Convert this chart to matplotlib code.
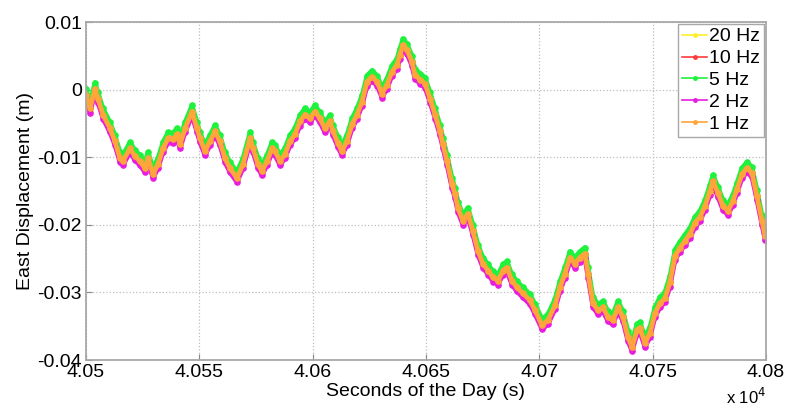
import matplotlib.pyplot as plt
from matplotlib.ticker import FuncFormatter, MultipleLocator

plt.rcParams['font.family'] = ['Liberation Sans', 'DejaVu Sans']

# ── Data ────────────────────────────────────────────────────────
# time of day in seconds, centre of the plotted band in metres
t_sec = [
    40500.0, 40501.8, 40504.0, 40505.3, 40507.5, 40510.6, 40512.8, 40515.0,
    40516.3, 40519.4, 40521.6, 40523.8, 40526.0, 40527.4, 40529.6, 40531.8,
    40534.0, 40536.2, 40538.4, 40540.1, 40541.5, 40543.7, 40546.8, 40549.0,
    40550.3, 40552.5, 40554.7, 40556.9, 40559.1, 40561.3, 40563.5, 40566.6,
    40569.3, 40572.4, 40573.7, 40575.9, 40577.6, 40579.9, 40582.1, 40583.4,
    40585.6, 40587.8, 40590.0, 40592.2, 40594.4, 40596.6, 40598.8, 40601.0,
    40603.2, 40605.4, 40607.6, 40609.0, 40611.2, 40612.9, 40615.1, 40617.4,
    40619.6, 40621.8, 40624.0, 40626.2, 40628.4, 40630.6, 40632.8, 40635.0,
    40637.2, 40638.5, 40639.9, 40641.6, 40643.8, 40645.1, 40647.4, 40649.6,
    40651.8, 40654.0, 40656.2, 40657.5, 40659.3, 40661.5, 40662.8, 40664.1,
    40666.3, 40668.5, 40670.7, 40672.9, 40675.1, 40677.4, 40679.6, 40681.8,
    40684.0, 40685.7, 40687.9, 40690.1, 40692.8, 40695.9, 40698.1, 40701.2,
    40703.8, 40706.9, 40709.1, 40711.3, 40713.5, 40715.7, 40717.9, 40720.1,
    40721.5, 40723.7, 40725.9, 40728.1, 40730.3, 40732.5, 40734.7, 40736.9,
    40739.1, 40740.9, 40743.1, 40744.4, 40746.6, 40748.8, 40751.0, 40753.2,
    40755.4, 40757.6, 40759.9, 40762.1, 40764.3, 40766.5, 40768.7, 40770.9,
    40773.1, 40775.3, 40776.6, 40778.8, 40781.0, 40783.2, 40785.4, 40787.2,
    40789.4, 40791.6, 40793.8, 40796.0, 40798.2, 40799.6,
]
east_band = [
    -0.00074, -0.00279, 0.00015, -0.00132, -0.00368, -0.00574, -0.00765, -0.01015,
    -0.01059, -0.00868, -0.00985, -0.01059, -0.01162, -0.01015, -0.01250, -0.01103,
    -0.00868, -0.00721, -0.00735, -0.00662, -0.00809, -0.00574, -0.00324, -0.00574,
    -0.00721, -0.00912, -0.00765, -0.00618, -0.00765, -0.01015, -0.01162, -0.01309,
    -0.01103, -0.00721, -0.00868, -0.01103, -0.01206, -0.01059, -0.00868, -0.00912,
    -0.01059, -0.00956, -0.00765, -0.00662, -0.00471, -0.00368, -0.00426, -0.00324,
    -0.00426, -0.00574, -0.00471, -0.00618, -0.00794, -0.00912, -0.00765, -0.00515,
    -0.00368, -0.00176, 0.00118, 0.00191, 0.00118, -0.00059, 0.00074, 0.00265,
    0.00368, 0.00515, 0.00662, 0.00588, 0.00412, 0.00221, 0.00147, 0.00088,
    -0.00132, -0.00368, -0.00618, -0.00809, -0.01059, -0.01397, -0.01544, -0.01750,
    -0.01941, -0.01838, -0.02088, -0.02382, -0.02574, -0.02676, -0.02779, -0.02824,
    -0.02676, -0.02632, -0.02824, -0.02926, -0.03015, -0.03118, -0.03265, -0.03485,
    -0.03412, -0.03191, -0.02926, -0.02721, -0.02485, -0.02574, -0.02485, -0.02426,
    -0.02721, -0.03162, -0.03265, -0.03220, -0.03368, -0.03412, -0.03220, -0.03368,
    -0.03662, -0.03809, -0.03559, -0.03529, -0.03750, -0.03603, -0.03309, -0.03162,
    -0.03088, -0.02853, -0.02456, -0.02338, -0.02235, -0.02132, -0.01971, -0.01882,
    -0.01721, -0.01500, -0.01353, -0.01529, -0.01721, -0.01794, -0.01647, -0.01471,
    -0.01250, -0.01162, -0.01235, -0.01574, -0.01941, -0.02162,
]

rates = ['20 Hz', '10 Hz', '5 Hz', '2 Hz', '1 Hz']
# how far each rate sits from the band centre (m)
rate_bias = [-0.0003, 0.0000, 0.0009, -0.0006, 0.0000]
rate_colors = ['#FFF02A', '#FF3B3B', '#1EF23C', '#E81CE0', '#FFA53A']

# ── Figure ──────────────────────────────────────────────────────
fig = plt.figure(figsize=(7.88, 4.08), dpi=100)
ax = fig.add_axes([0.1091, 0.1176, 0.8630, 0.8284])

for name, bias, clr in zip(rates, rate_bias, rate_colors):
    ax.plot(t_sec, [v + bias for v in east_band], '.-', color=clr,
            linewidth=3.4, markersize=7.5, label=name)

ax.set_xlim(40500, 40800)
ax.set_ylim(-0.04, 0.01)
ax.xaxis.set_major_locator(MultipleLocator(50))
ax.yaxis.set_major_locator(MultipleLocator(0.01))
ax.xaxis.set_major_formatter(FuncFormatter(lambda x, p: f'{x / 1e4:g}'))
ax.yaxis.set_major_formatter(FuncFormatter(lambda y, p: f'{round(y, 3):g}'))

ax.grid(True, linestyle=':', color='#BDBDBD', linewidth=0.9)
ax.tick_params(direction='in', length=4, labelsize=14, color='#888888',
               pad=3)
for s in ax.spines.values():
    s.set_color('#A8A8A8')
    s.set_linewidth(1.3)

ax.set_xlabel('Seconds of the Day (s)', fontsize=14, labelpad=1)
ax.set_ylabel('East Displacement (m)', fontsize=14, labelpad=2)
fig.text(0.972, 0.003, r'x 10$^{4}$', ha='right', va='bottom', fontsize=12)

leg = ax.legend(loc='upper right', fontsize=14, handlelength=1.3,
                handletextpad=0.1, labelspacing=0.22, borderpad=0.2,
                borderaxespad=0.1, fancybox=False, framealpha=1)
leg.get_frame().set_edgecolor('#A8A8A8')
for h in leg.get_lines():
    h.set_linewidth(1.2)
    h.set_markersize(5)

fig.savefig('out.png', dpi=100)
